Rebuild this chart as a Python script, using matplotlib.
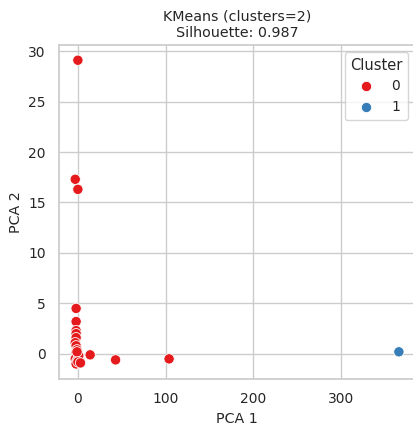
import matplotlib
matplotlib.use("Agg")
import matplotlib.pyplot as plt
import seaborn as sns
import pandas as pd

# PCA coordinates
pca1 = [0, -3, 0, -2, -2, -2, -2, -2, -3, -2, -1, -2, -1, 0, -3, -1, 0, 2, -2, 1,
        -1, 0, 3, 14, 43, 104, 366]
pca2 = [29.1, 17.3, 16.3, 4.5, 3.2, 2.3, 2.0, 1.6, 1.1, 0.8, 0.4, 0.1, -0.1, -0.3,
        -0.5, -0.7, -0.9, -0.6, -1.0, -0.2, 0.2, -0.8, -0.9, -0.1, -0.6, -0.5, 0.2]
cluster = [0] * 26 + [1]

df = pd.DataFrame({"PCA 1": pca1, "PCA 2": pca2, "Cluster": cluster})

sns.set_theme(style="whitegrid")
fig, ax = plt.subplots(figsize=(4.13, 4.25), dpi=100)
sns.scatterplot(data=df, x="PCA 1", y="PCA 2", hue="Cluster", palette="Set1", s=55, ax=ax)
ax.set_title("KMeans (clusters=2)\nSilhouette: 0.987", fontsize=10.3)
ax.set_xlabel("PCA 1", fontsize=10.3)
ax.set_ylabel("PCA 2", fontsize=10.3)
ax.tick_params(labelsize=10)
ax.legend(title="Cluster", loc="upper right", fontsize=10, title_fontsize=10.5)
fig.subplots_adjust(left=0.143, right=1.005, top=0.894, bottom=0.108)
fig.savefig("out.png")
